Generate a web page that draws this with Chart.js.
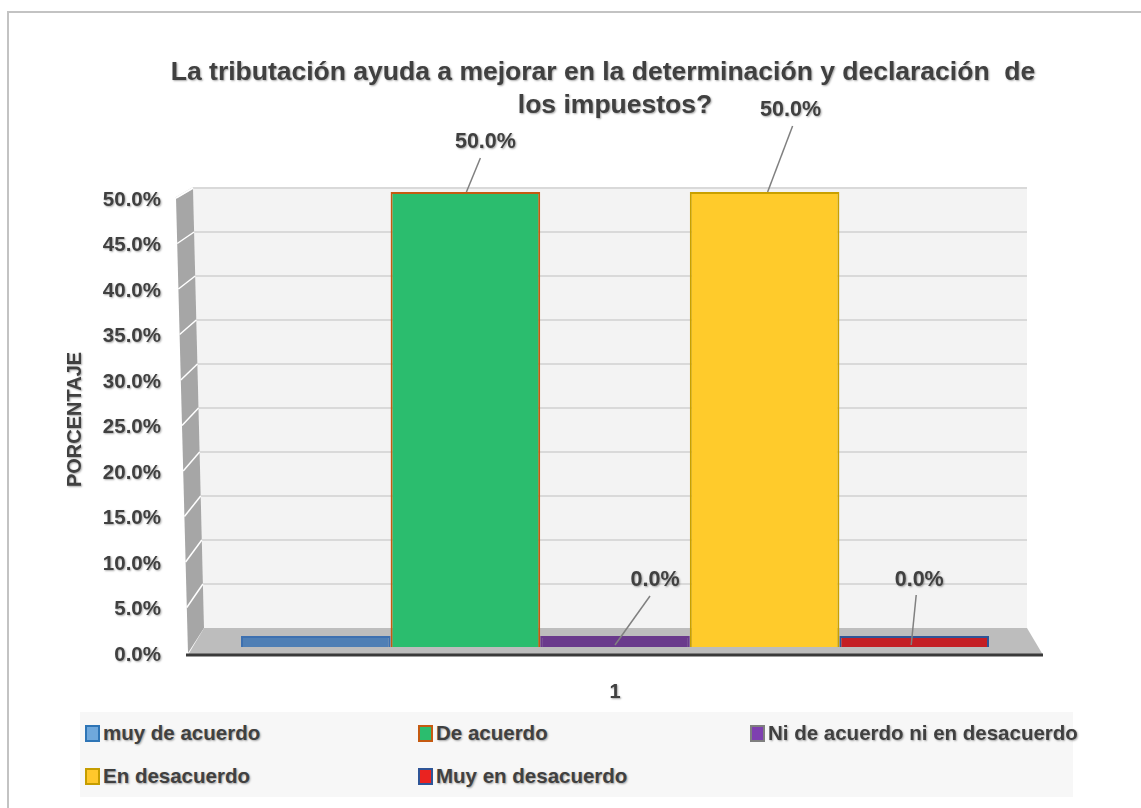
<!DOCTYPE html>
<html>
<head>
<meta charset="utf-8">
<script src="https://cdn.jsdelivr.net/npm/chart.js@4.4.1/dist/chart.umd.min.js"></script>
<style>
  body { margin: 0; background: #fff; font-family: "Liberation Sans", Arial, sans-serif; }
  #wrap { position: relative; width: 1141px; height: 808px; overflow: hidden; }
  #leyenda { position: absolute; left: 80px; top: 712px; width: 993px; height: 85px; background: #f7f7f7; }
  .item { position: absolute; display: flex; align-items: center; font-weight: bold; font-size: 20.5px;
          color: #404040; white-space: nowrap; transform: translateY(-50%);
          text-shadow: 1px 1px 2px rgba(0,0,0,0.35); }
  .sw { width: 11px; height: 13px; border: 2px solid; margin-right: 3px; }
</style>
</head>
<body>
<div id="wrap">
  <canvas id="grafico" width="1141" height="808"></canvas>
  <div id="leyenda"></div>
</div>
<script>
// datos
const categorias = ["1"];
const series = ["muy de acuerdo", "De acuerdo", "Ni de acuerdo ni en desacuerdo", "En desacuerdo", "Muy en desacuerdo"];
const muyDeAcuerdo = [0.0];
const deAcuerdo = [50.0];
const niDeAcuerdo = [0.0];
const enDesacuerdo = [50.0];
const muyEnDesacuerdo = [0.0];
const valores = [muyDeAcuerdo, deAcuerdo, niDeAcuerdo, enDesacuerdo, muyEnDesacuerdo];
const titulo = ["La tributación ayuda a mejorar en la determinación y declaración  de", "los impuestos?"];

const relleno = ["#4f7fb5", "#2bbd6e", "#6a3a8c", "#ffcb2b", "#c41e24"];
const bordes = ["#3d70b0", "#c55a11", "#6a3a8c", "#c9a000", "#2f5597"];
const rellenoLeyenda = ["#6fa8dc", "#2bbd6e", "#7e3fb0", "#ffc82c", "#ea2320"];
const bordesLeyenda = ["#2e75b6", "#c55a11", "#7f7f7f", "#c59d00", "#2f5597"];

function sombra(ctx, on) {
  ctx.shadowColor = on ? "rgba(0,0,0,0.35)" : "rgba(0,0,0,0)";
  ctx.shadowBlur = on ? 2 : 0;
  ctx.shadowOffsetX = on ? 1 : 0;
  ctx.shadowOffsetY = on ? 1 : 0;
}

// fondo, paredes y piso en perspectiva
const fondo3d = {
  id: "fondo3d",
  beforeDraw(chart) {
    const ctx = chart.ctx;
    ctx.save();
    ctx.fillStyle = "#fff";
    ctx.fillRect(0, 0, chart.width, chart.height);
    ctx.strokeStyle = "#c3c3c3";
    ctx.lineWidth = 2;
    ctx.strokeRect(8, 12, chart.width + 20, chart.height + 20);
    ctx.restore();
    // sombra suave para los ejes
    sombra(ctx, true);
  },
  beforeDatasetsDraw(chart) {
    const { ctx, chartArea: a, scales: { y } } = chart;
    sombra(ctx, false);
    const bt = a.top - 4, bb = a.bottom - 19, br = a.right - 13;
    const h = a.bottom - a.top;
    ctx.save();
    // pared del fondo
    ctx.fillStyle = "#f3f3f3";
    ctx.beginPath();
    ctx.moveTo(a.left + 3, bt); ctx.lineTo(br, bt); ctx.lineTo(br, bb); ctx.lineTo(a.left + 14, bb);
    ctx.closePath(); ctx.fill();
    // pared izquierda
    ctx.fillStyle = "#a6a6a6";
    ctx.beginPath();
    ctx.moveTo(a.left - 14, a.top + 6); ctx.lineTo(a.left + 3, bt);
    ctx.lineTo(a.left + 14, bb); ctx.lineTo(a.left - 2, a.bottom + 6);
    ctx.closePath(); ctx.fill();
    ctx.strokeStyle = "#d6d6d6"; ctx.lineWidth = 2;
    ctx.beginPath(); ctx.moveTo(a.left - 14, a.top + 6); ctx.lineTo(a.left + 3, bt); ctx.stroke();
    // piso
    ctx.fillStyle = "#bdbdbd";
    ctx.beginPath();
    ctx.moveTo(a.left + 14, bb); ctx.lineTo(br, bb); ctx.lineTo(a.right + 3, a.bottom + 8); ctx.lineTo(a.left - 2, a.bottom + 8);
    ctx.closePath(); ctx.fill();
    // lineas de cuadricula
    y.ticks.forEach(t => {
      if (t.value === 0) return;
      const f = (a.bottom - y.getPixelForValue(t.value)) / h;
      const yb = bb - f * (bb - bt);
      const xb = a.left + 14 - f * 11;
      ctx.strokeStyle = "#d9d9d9"; ctx.lineWidth = 2;
      ctx.beginPath(); ctx.moveTo(xb, yb); ctx.lineTo(br, yb); ctx.stroke();
      const xl = a.left - 2 - f * 12, yl = a.bottom + 6 - f * (a.bottom + 6 - a.top - 6);
      ctx.strokeStyle = "#ffffff"; ctx.lineWidth = 1.5;
      ctx.beginPath(); ctx.moveTo(xl, yl); ctx.lineTo(xb, yb); ctx.stroke();
    });
    ctx.restore();
  },
  afterDatasetsDraw(chart) {
    const { ctx, chartArea: a } = chart;
    ctx.save();
    ctx.strokeStyle = "#3a3a3a"; ctx.lineWidth = 3;
    ctx.beginPath(); ctx.moveTo(a.left - 4, a.bottom + 8); ctx.lineTo(a.right + 3, a.bottom + 8); ctx.stroke();
    // titulo en dos lineas (la primera algo corrida a la izquierda como en el original)
    sombra(ctx, true);
    ctx.fillStyle = "#404040";
    ctx.font = "bold 26.5px 'Liberation Sans', Arial";
    ctx.textAlign = "center"; ctx.textBaseline = "middle";
    const cx = (a.left + a.right) / 2;
    ctx.fillText(titulo[0], cx - 12, 73);
    ctx.fillText(titulo[1], cx, 106);
    ctx.restore();
  }
};

// etiquetas de datos con lineas guia
const etiquetas = {
  id: "etiquetas",
  afterDatasetsDraw(chart, args, opts) {
    const ctx = chart.ctx;
    ctx.save();
    chart.data.datasets.forEach((ds, i) => {
      const o = opts.offsets[i];
      if (!o) return;
      const bar = chart.getDatasetMeta(i).data[0];
      sombra(ctx, false);
      ctx.strokeStyle = "#808080"; ctx.lineWidth = 1.5;
      ctx.beginPath();
      ctx.moveTo(bar.x + o[0], bar.y + o[1]);
      ctx.lineTo(bar.x + o[2], bar.y + o[3]);
      ctx.stroke();
      sombra(ctx, true);
      ctx.fillStyle = "#404040";
      ctx.font = "bold 21.5px 'Liberation Sans', Arial";
      ctx.textAlign = "center"; ctx.textBaseline = "middle";
      ctx.fillText(ds.data[0].toFixed(1) + "%", bar.x + o[4], bar.y + o[5]);
    });
    ctx.restore();
  }
};

const datasets = series.map((s, i) => ({
  label: s,
  data: valores[i],
  backgroundColor: relleno[i],
  borderColor: bordes[i],
  borderWidth: 2,
  minBarLength: 11,
  categoryPercentage: 0.88,
  barPercentage: 1.0
}));

new Chart(document.getElementById("grafico"), {
  type: "bar",
  data: { labels: categorias, datasets: datasets },
  plugins: [fondo3d, etiquetas],
  options: {
    responsive: false,
    animation: false,
    layout: { padding: { left: 0, right: 101, top: 192, bottom: 0 } },
    plugins: {
      legend: { display: false },
      tooltip: { enabled: false },
      title: { display: false },
      etiquetas: {
        offsets: [null, [1, 0, 15, -34, 20, -50], [0, 9, 35, -40, 40, -56], [3, 0, 28, -66, 26, -82], [-3, 9, 2, -41, 5, -56]]
      }
    },
    scales: {
      x: {
        grid: { display: false, drawTicks: false },
        border: { display: false },
        ticks: { color: "#404040", padding: 33, font: { family: "'Liberation Sans', Arial", size: 20, weight: "bold" } },
        afterFit(scale) { scale.height = 161; }
      },
      y: {
        min: 0,
        max: 50,
        grid: { display: false, drawTicks: false },
        border: { display: false },
        ticks: {
          stepSize: 5,
          labelOffset: 8,
          padding: 29,
          color: "#404040",
          font: { family: "'Liberation Sans', Arial", size: 20.5, weight: "bold" },
          callback: v => v.toFixed(1) + "%"
        },
        title: {
          display: true,
          text: "PORCENTAJE",
          color: "#404040",
          padding: { top: 63, bottom: 0 },
          font: { family: "'Liberation Sans', Arial", size: 20, weight: "bold" }
        },
        afterFit(scale) { scale.width = 190; }
      }
    }
  }
});

// leyenda en tres columnas
const leyenda = document.getElementById("leyenda");
const posiciones = [[5, 21], [338, 21], [670, 21], [5, 64], [338, 64]];
series.forEach((s, i) => {
  const d = document.createElement("div");
  d.className = "item";
  d.style.left = posiciones[i][0] + "px";
  d.style.top = posiciones[i][1] + "px";
  d.innerHTML = '<span class="sw" style="background:' + rellenoLeyenda[i] + ';border-color:' + bordesLeyenda[i] + '"></span>' + s;
  leyenda.appendChild(d);
});
</script>
</body>
</html>
